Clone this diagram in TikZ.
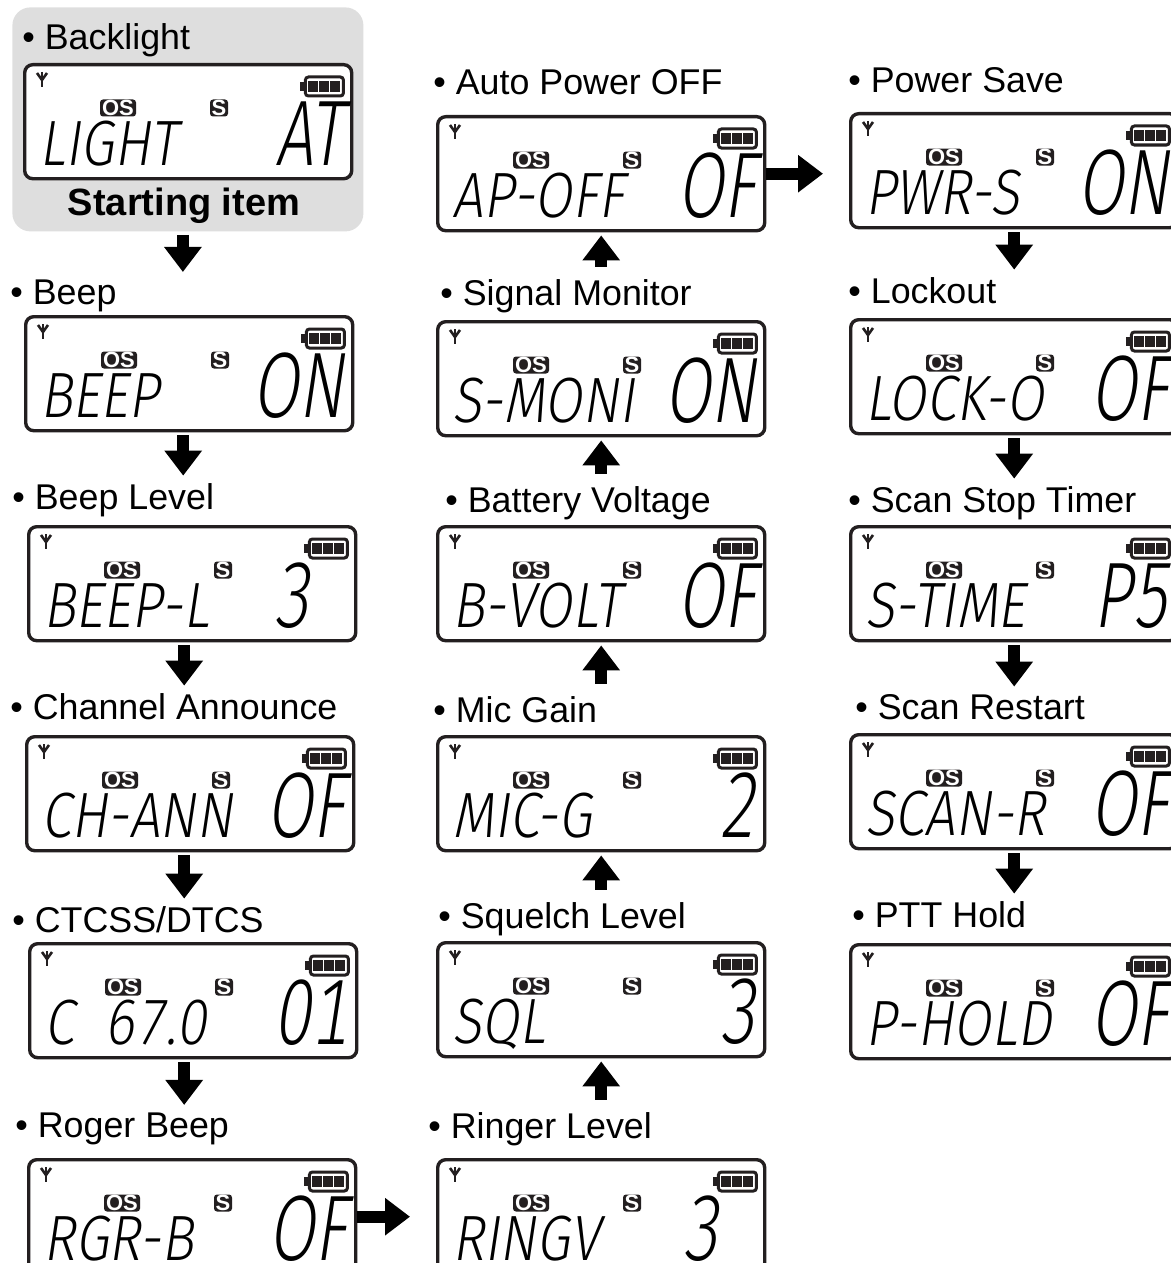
\documentclass[tikz,border=0pt]{standalone}
\usepackage{fontspec}
\setmainfont{Liberation Sans}
\newfontfamily\lcdfont{Fira Sans}[UprightFont={* Light},FakeSlant=0.15,FakeStretch=0.85,Numbers=Monospaced]
\newfontfamily\lcdbig{Fira Sans}[UprightFont={* Light},FakeSlant=0.15,FakeStretch=0.72,Numbers=Monospaced]
\usetikzlibrary{arrows.meta}
\usetikzlibrary{calc}
\definecolor{lcdline}{RGB}{35,31,32}
\definecolor{startgray}{RGB}{222,222,222}

\begin{document}
\begin{tikzpicture}[
        x=0.5pt, y=-0.5pt, % 1 unidad = 1 pixel, eje y hacia abajo
        font=\fontsize{17.9}{21}\selectfont,
        lcd/.style={draw=lcdline, line width=1.7pt, rounded corners=4pt, fill=white,
            minimum width=163.5pt, minimum height=57pt, inner sep=0pt, anchor=north west}, % Pantalla
        itemlbl/.style={anchor=base west, inner sep=0pt}, % Nombre del item
        badge/.style={fill=lcdline, text=white, rounded corners=1.5pt, inner sep=0pt,
            minimum height=8.5pt, font=\fontsize{11}{11}\selectfont\bfseries}, % Iconos OS y S
        segL/.style={anchor=base west, inner sep=0pt, font=\lcdfont\fontsize{32}{32}\selectfont},
        segR/.style={anchor=base east, inner sep=0pt, font=\lcdbig\fontsize{46.5}{46.5}\selectfont},
        flow/.style={line width=6pt, -{Triangle[length=12.5pt,width=18pt]}}, % Flechas gruesas
        flowDown/.style={flow, shorten <=1.5pt, shorten >=3.5pt},
        flowUp/.style={flow, shorten <=6pt, shorten >=1.5pt},
        flowSide/.style={flow, shorten >=13pt}
    ]
        % --- Marco de la figura ---
        \useasboundingbox (0,0) rectangle (1171,1263);
        \clip (0,0) rectangle (1171,1263);

        % --- Pantalla LCD: nombre, x, y, texto izquierdo, valor ---
        \def\lcd#1#2#3#4#5{%
            \node[lcd] (#1) at (#2,#3) {};
            % antena
            \draw[lcdline, line width=1.3pt] ($(#1.north west)+(14,10)$) -- ($(#1.north west)+(19,17)$)
                -- ($(#1.north west)+(24,10)$);
            \draw[lcdline, line width=1.3pt] ($(#1.north west)+(19,9)$) -- ($(#1.north west)+(19,24)$);
            % bateria
            \fill[lcdline] ($(#1.north east)+(-53,19)$) rectangle ($(#1.north east)+(-47,28)$);
            \draw[lcdline, line width=1.5pt, rounded corners=1.5pt] ($(#1.north east)+(-48,14)$)
                rectangle ($(#1.north east)+(-10,33)$);
            \foreach \k in {0,1,2}
                \fill[lcdline] ($(#1.north east)+(-45+11*\k,18)$) rectangle ++(10,11);
            % iconos
            \node[badge, minimum width=18pt] (#1OS) at ($(#1.north west)+(95,45)$) {OS};
            \node[badge, minimum width=9pt] (#1S) at ($(#1.north west)+(196,45)$) {S};
            % texto de segmentos
            \node[segL] (#1Txt) at ($(#1.north west)+(16,102)$) {#4};
            \node[segR] (#1Val) at ($(#1.north east)+(-10,102)$) {#5};
        }

        % --- Item inicial (fondo gris) ---
        \node[fill=startgray, rounded corners=9pt, minimum width=175.5pt, minimum height=112pt,
            inner sep=0pt, anchor=north west] (startArea) at (12,7) {};
        \node[itemlbl] (backlightLbl) at (22,50) {• Backlight};
        \lcd{backlight}{23}{63}{LIGHT}{AT}
        \node[anchor=base, inner sep=0pt, font=\fontsize{19}{22}\selectfont\bfseries] (startTxt)
            at (184,215) {Starting item};

        % --- Columna izquierda ---
        \node[itemlbl] (beepLbl) at (10,304) {• Beep};
        \lcd{beep}{24}{315}{BEEP}{ON}
        \node[itemlbl] (beepLevelLbl) at (12,509) {• Beep Level};
        \lcd{beepLevel}{27}{525}{BEEP-L}{3\phantom{0}}
        \node[itemlbl] (chAnnounceLbl) at (10,719) {• Channel Announce};
        \lcd{chAnnounce}{25}{735}{CH-ANN}{OF}
        \node[itemlbl] (ctcssLbl) at (12,932) {• CTCSS/DTCS};
        \lcd{ctcss}{28}{942}{C\ \ 67.0}{01}
        \node[itemlbl] (rogerBeepLbl) at (15,1137) {• Roger Beep};
        \lcd{rogerBeep}{27}{1158}{RGR-B}{OF}

        % --- Columna central ---
        \node[itemlbl] (apoLbl) at (433,95) {• Auto Power OFF};
        \lcd{apo}{436}{115}{AP-OFF}{OF}
        \node[itemlbl] (sigMonLbl) at (440,305) {• Signal Monitor};
        \lcd{sigMon}{436}{320}{S-MONI}{ON}
        \node[itemlbl] (battVoltLbl) at (445,512) {• Battery Voltage};
        \lcd{battVolt}{436}{525}{B-VOLT}{OF}
        \node[itemlbl] (micGainLbl) at (433,722) {• Mic Gain};
        \lcd{micGain}{436}{735}{MIC-G}{2}
        \node[itemlbl] (squelchLbl) at (438,928) {• Squelch Level};
        \lcd{squelch}{436}{941}{SQL}{3}
        \node[itemlbl] (ringerLbl) at (428,1138) {• Ringer Level};
        \lcd{ringer}{436}{1158}{RINGV}{3\phantom{0}}

        % --- Columna derecha ---
        \node[itemlbl] (pwrSaveLbl) at (848,93) {• Power Save};
        \lcd{pwrSave}{849}{112}{PWR-S}{ON}
        \node[itemlbl] (lockoutLbl) at (848,303) {• Lockout};
        \lcd{lockout}{849}{318}{LOCK-O}{OF}
        \node[itemlbl] (scanStopLbl) at (848,512) {• Scan Stop Timer};
        \lcd{scanStop}{849}{525}{S-TIME}{P5}
        \node[itemlbl] (scanRestartLbl) at (855,719) {• Scan Restart};
        \lcd{scanRestart}{849}{733}{SCAN-R}{OF}
        \node[itemlbl] (pttHoldLbl) at (852,927) {• PTT Hold};
        \lcd{pttHold}{849}{943}{P-HOLD}{OF}

        % --- Flechas hacia abajo (izquierda) ---
        \draw[flowDown] ($(startArea.south)+(-5,0)$) -- ($(startArea.south |- beepLbl.north)+(-5,0)$);
        \draw[flowDown] ($(beep.south)+(-6,0)$) -- ($(beep.south |- beepLevelLbl.north)+(-6,0)$);
        \draw[flowDown] ($(beepLevel.south)+(-8,0)$) -- ($(beepLevel.south |- chAnnounceLbl.north)+(-8,0)$);
        \draw[flowDown] ($(chAnnounce.south)+(-6,0)$) -- ($(chAnnounce.south |- ctcssLbl.north)+(-6,0)$);
        \draw[flowDown] ($(ctcss.south)+(-9,0)$) -- ($(ctcss.south |- rogerBeepLbl.north)+(-9,0)$);

        % --- Flechas laterales ---
        \draw[flowSide] (rogerBeep.east) -- (rogerBeep.east -| ringer.west);
        \draw[flowSide] (apo.east) -- (apo.east -| pwrSave.west);

        % --- Flechas hacia arriba (centro) ---
        \draw[flowUp] (squelch.south |- ringerLbl.north) -- (squelch.south);
        \draw[flowUp] (micGain.south |- squelchLbl.north) -- (micGain.south);
        \draw[flowUp] (battVolt.south |- micGainLbl.north) -- (battVolt.south);
        \draw[flowUp] (sigMon.south |- battVoltLbl.north) -- (sigMon.south);
        \draw[flowUp] (apo.south |- sigMonLbl.north) -- (apo.south);

        % --- Flechas hacia abajo (derecha) ---
        \draw[flowDown] (pwrSave.south) -- (pwrSave.south |- lockoutLbl.north);
        \draw[flowDown] (lockout.south) -- (lockout.south |- scanStopLbl.north);
        \draw[flowDown] (scanStop.south) -- (scanStop.south |- scanRestartLbl.north);
        \draw[flowDown] (scanRestart.south) -- (scanRestart.south |- pttHoldLbl.north);

    \end{tikzpicture}
\end{document}
